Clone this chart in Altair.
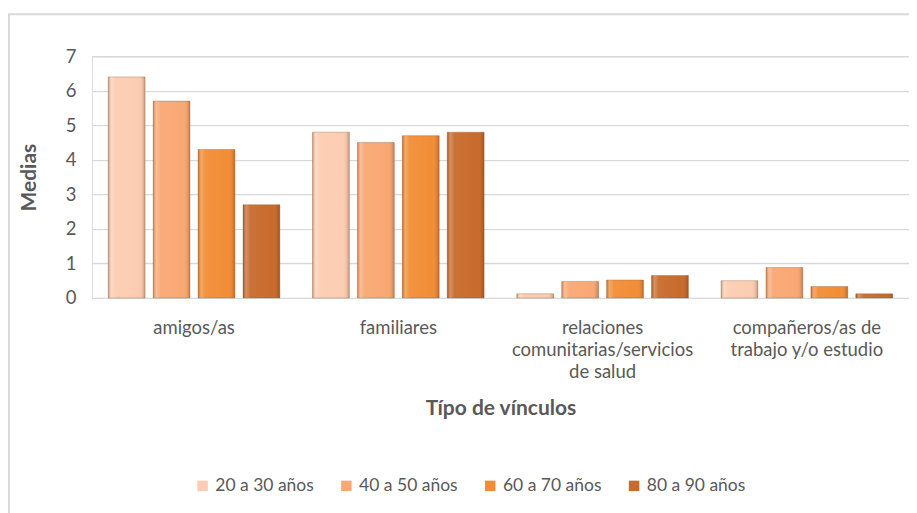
import altair as alt
import pandas as pd
import json

categories = ["amigos/as", "familiares", "relaciones comunitarias/servicios de salud",
              "compañeros/as de trabajo y/o estudio"]
category_lines = [["amigos/as"], ["familiares"],
                  ["relaciones", "comunitarias/servicios", "de salud"],
                  ["compañeros/as de", "trabajo y/o estudio"]]
groups = ["20 a 30 años", "40 a 50 años", "60 a 70 años", "80 a 90 años"]
values = {
    "20 a 30 años": [6.4, 4.8, 0.12, 0.5],
    "40 a 50 años": [5.7, 4.5, 0.48, 0.88],
    "60 a 70 años": [4.3, 4.7, 0.52, 0.33],
    "80 a 90 años": [2.7, 4.8, 0.65, 0.12],
}
colors = ["#FCCDB2", "#F9A873", "#F28D36", "#C86B2C"]

rows = []
for g in groups:
    for c, v in zip(categories, values[g]):
        rows.append({"cat": c, "grupo": g, "media": v})
df = pd.DataFrame(rows)

label_map = json.dumps(dict(zip(categories, category_lines)), ensure_ascii=False)

FONT = "Lato"
GRAY = "#595959"

x = alt.X("cat:N", sort=categories,
          scale=alt.Scale(paddingInner=0.16, paddingOuter=0.08),
          axis=alt.Axis(title="Típo de vínculos", labelAngle=0,
                        labelExpr=f"{label_map}[datum.value]",
                        labelFontSize=18.5, labelColor=GRAY, labelFont=FONT,
                        labelPadding=21, labelLineHeight=22,
                        titleFontSize=21, titleColor=GRAY, titleFont=FONT,
                        titleFontWeight="bold", titlePadding=16,
                        domainColor="#D9D9D9", ticks=False, labelLimit=300))
xo = alt.XOffset("grupo:N", sort=groups, scale=alt.Scale(paddingInner=0.18))
y = alt.Y("media:Q", scale=alt.Scale(domain=[0, 7]),
          axis=alt.Axis(title="Medias", values=list(range(8)), tickCount=8,
                        labelFontSize=18.5, labelColor=GRAY, labelFont=FONT,
                        labelPadding=16, titleFontSize=21, titleColor=GRAY,
                        titleFont=FONT, titleFontWeight="bold", titlePadding=26,
                        gridColor="#D9D9D9", gridWidth=1.3, domain=False, ticks=False))

bars = alt.Chart(df).mark_bar(stroke="#8a5a3a", strokeWidth=0.6, strokeOpacity=0.6).encode(
    x=x, xOffset=xo, y=y,
    color=alt.Color("grupo:N", sort=groups,
                    scale=alt.Scale(domain=groups, range=colors),
                    legend=alt.Legend(title=None, orient="none", legendX=102, legendY=421,
                                      direction="horizontal", columns=4,
                                      symbolType="square", symbolSize=110,
                                      symbolStrokeWidth=0, labelFontSize=17.5,
                                      labelColor=GRAY, labelFont=FONT,
                                      columnPadding=23, labelOffset=4)),
)

shade = alt.Chart(df).mark_bar(
    color={"gradient": "linear", "x1": 0, "x2": 1, "y1": 0, "y2": 0,
           "stops": [
               {"offset": 0, "color": "rgba(90,40,10,0.30)"},
               {"offset": 0.08, "color": "rgba(255,255,255,0.25)"},
               {"offset": 0.2, "color": "rgba(255,255,255,0.05)"},
               {"offset": 0.8, "color": "rgba(255,255,255,0.0)"},
               {"offset": 0.92, "color": "rgba(90,40,10,0.08)"},
               {"offset": 1, "color": "rgba(90,40,10,0.30)"}]}
).encode(x=x, xOffset=xo, y=y)

frame_df = pd.DataFrame({"k": [0]})
frame_left = alt.Chart(frame_df).mark_rule(color="#D9D9D9", strokeWidth=2).encode(
    x=alt.value(-83), y=alt.value(-42), y2=alt.value(470))
frame_top = alt.Chart(frame_df).mark_rule(color="#D9D9D9", strokeWidth=2).encode(
    x=alt.value(-84), x2=alt.value(840), y=alt.value(-42))

chart = alt.layer(frame_left, frame_top, bars, shade).properties(
    width=818, height=242,
    autosize=alt.AutoSizeParams(type="none"),
    padding={"left": 84, "top": 48, "right": 0, "bottom": 215},
).configure_view(stroke=None).configure(background="white")

chart.save("out.html", embed_options={"renderer": "svg", "actions": False})
